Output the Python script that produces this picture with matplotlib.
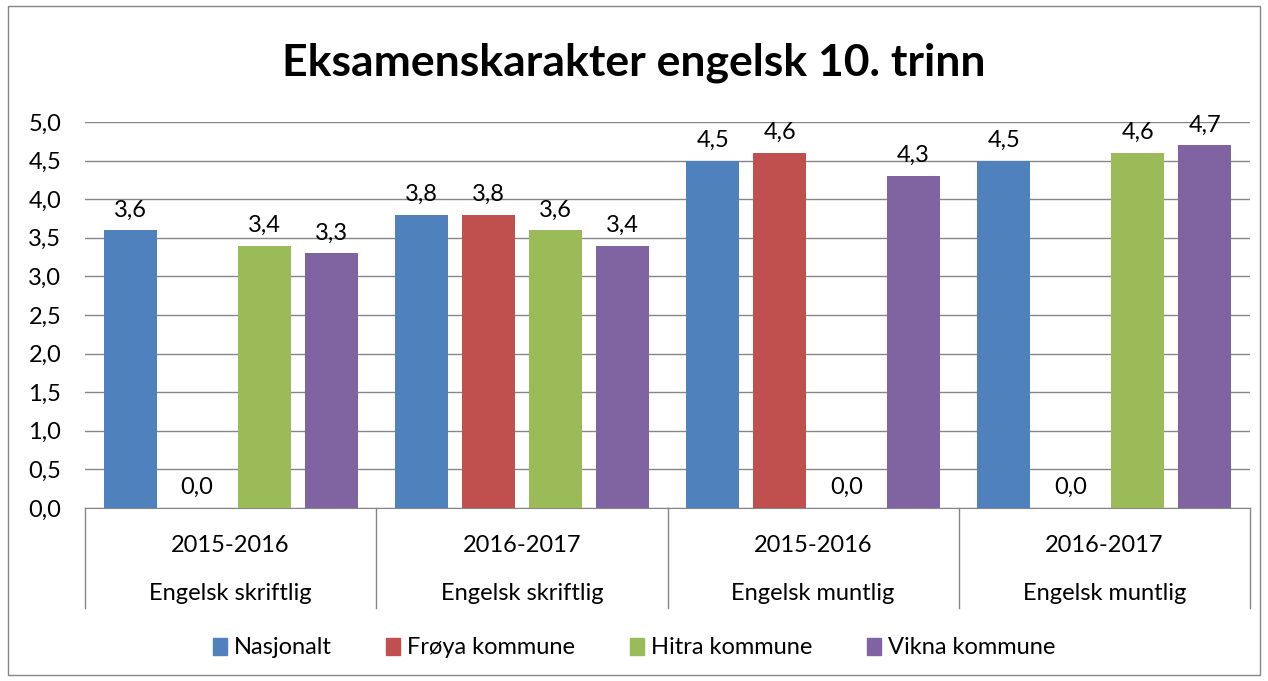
import numpy as np
import matplotlib.pyplot as plt
from matplotlib.patches import Patch

plt.rcParams['font.family'] = ['Lato', 'DejaVu Sans']

years = ['2015-2016', '2016-2017', '2015-2016', '2016-2017']
subjects = ['Engelsk skriftlig', 'Engelsk skriftlig', 'Engelsk muntlig', 'Engelsk muntlig']
series = ['Nasjonalt', 'Frøya kommune', 'Hitra kommune', 'Vikna kommune']
nasjonalt = [3.6, 3.8, 4.5, 4.5]
froya = [0.0, 3.8, 4.6, 0.0]
hitra = [3.4, 3.6, 0.0, 4.6]
vikna = [3.3, 3.4, 4.3, 4.7]
colors = ['#4F81BD', '#C0504D', '#9BBB59', '#8064A2']

fs = 17

fig = plt.figure(figsize=(12.68, 6.81), dpi=100)
ax = fig.add_axes([85/1268, 173/681, 1165/1268, 386/681])

x = np.arange(len(years))
step = 0.23
width = 0.182
for i, (name, vals) in enumerate(zip(series, [nasjonalt, froya, hitra, vikna])):
    pos = x + (i - 1.5) * step
    ax.bar(pos, vals, width, color=colors[i], zorder=3)
    for p, v in zip(pos, vals):
        ax.annotate(f'{v:.1f}'.replace('.', ','), (p, v), xytext=(0, 7),
                    textcoords='offset points', ha='center', va='bottom',
                    fontsize=fs, color='#000000')

ax.set_xlim(-0.5, len(years) - 0.5)
ax.set_ylim(0, 5)
ax.set_yticks(np.arange(0, 5.01, 0.5))
ax.set_yticklabels([f'{t:.1f}'.replace('.', ',') for t in np.arange(0, 5.01, 0.5)], fontsize=fs)
ax.tick_params(axis='y', length=0, pad=17)
ax.set_xticks([])
ax.grid(axis='y', color='#868686', linewidth=1, zorder=0)
for s in ['left', 'right', 'top']:
    ax.spines[s].set_visible(False)
ax.spines['bottom'].set_color('#868686')

# multi-level category axis
tr = ax.get_xaxis_transform()
depth = 100 / 386
for b in np.arange(-0.5, len(years), 1.0):
    ax.plot([b, b], [0, -depth], color='#868686', linewidth=1, transform=tr, clip_on=False)
for xi, yr, sub in zip(x, years, subjects):
    ax.text(xi, -37 / 386, yr, transform=tr, ha='center', va='center', fontsize=fs)
    ax.text(xi, -85 / 386, sub, transform=tr, ha='center', va='center', fontsize=fs)

fig.suptitle('Eksamenskarakter engelsk 10. trinn', y=1 - 63/681, va='center',
             fontsize=32, fontweight='bold')

handles = [Patch(color=c) for c in colors]
fig.legend(handles, series, loc='center', bbox_to_anchor=(0.5, 1 - 648/681), ncol=4,
           frameon=False, fontsize=fs, handlelength=0.6, handleheight=0.7,
           handletextpad=0.3, columnspacing=2.3)

fig.patches.append(plt.Rectangle((8/1268, 6/681), 1252/1268, 669/681, transform=fig.transFigure,
                                 fill=False, edgecolor='#868686', linewidth=1))

fig.savefig('out.png', dpi=100)
